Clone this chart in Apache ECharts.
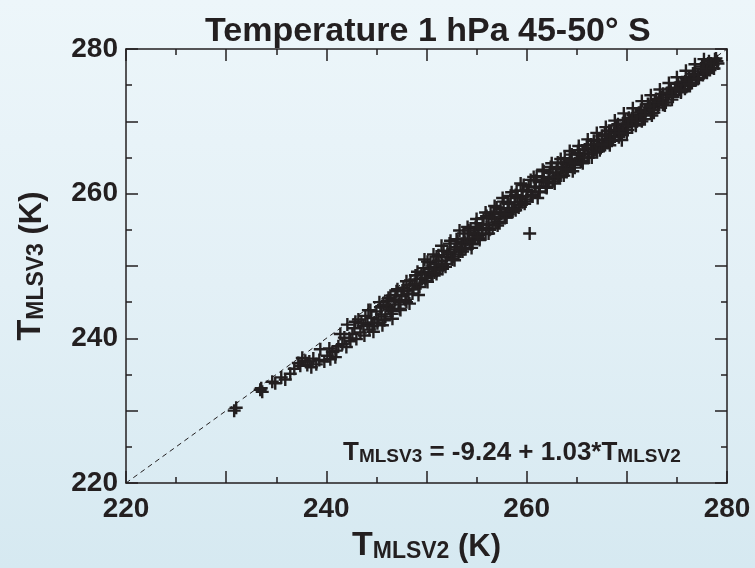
<!DOCTYPE html>
<html>
<head>
<meta charset="utf-8">
<script src="https://cdn.jsdelivr.net/npm/echarts@6/dist/echarts.min.js"></script>
<style>
html,body{margin:0;padding:0;}
#chart{width:755px;height:568px;background:linear-gradient(to bottom,#edf6fa 0%,#e3f0f6 50%,#d6e9f1 100%);}
</style>
</head>
<body>
<div id="chart"></div>
<script>
// ---- data ----
const titleText = 'Temperature 1 hPa 45-50\u00b0 S';
const axisMin = 220, axisMax = 280;
const tickLabels = [220, 240, 260, 280];
const diagonal = [[220, 220], [280, 280]];
// T_MLSV2 (x) and T_MLSV3 (y)
const tV2 = [
 230.8,231.0,233.4,233.6,233.5,234.6,234.9,235.5,235.9,236.4,236.8,237.2,237.4,237.9,238.1,238.5,238.7,239.0,239.3,239.4,
 239.8,240.1,240.3,240.6,240.9,241.2,241.6,241.8,242.0,242.1,242.4,242.6,242.8,243.0,243.2,243.4,243.7,243.9,244.1,244.3,
 244.5,244.8,245.0,245.2,245.5,245.7,245.9,246.2,246.4,246.6,246.8,247.0,247.2,247.5,247.7,247.9,248.1,248.4,248.6,248.8,
 249.0,249.3,249.5,249.7,249.9,250.2,250.4,250.6,250.8,251.0,251.3,251.5,251.7,251.9,252.1,252.3,252.6,252.8,253.0,253.2,
 253.5,253.7,253.9,254.1,254.4,254.6,254.8,255.0,255.3,255.5,255.7,255.9,256.2,256.4,256.6,256.8,257.0,257.3,257.5,257.7,
 257.9,258.2,258.4,258.6,258.8,259.0,259.2,259.5,259.7,259.9,260.1,260.3,260.4,260.6,260.8,261.0,261.3,261.5,261.7,261.9,
 262.2,262.4,262.6,262.9,263.1,263.3,263.6,263.8,264.0,264.3,264.5,264.8,265.0,265.2,265.5,265.7,266.0,266.2,266.5,266.7,
 267.0,267.2,267.5,267.7,268.0,268.2,268.5,268.7,269.0,269.3,269.5,269.6,269.8,270.1,270.3,270.6,270.9,271.1,271.4,271.6,
 271.9,272.1,272.4,272.6,272.9,273.1,273.4,273.6,273.9,274.1,274.4,274.6,274.9,275.1,275.4,275.6,275.9,276.1,276.4,276.6,
 276.9,277.1,277.4,277.6,277.9,278.1,278.3,278.6,278.8,279.0,
 244.2,244.6,245.1,245.4,245.8,246.1,246.5,246.9,247.3,247.6,248.0,248.3,248.7,249.1,249.4,249.8,250.1,250.5,250.9,251.2,
 251.6,252.0,252.4,252.7,253.1,253.4,253.8,254.2,254.5,254.9,255.2,255.6,256.0,256.3,256.7,257.1,257.4,257.8,258.1,258.5,
 258.9,259.3,259.6,260.0,260.2,260.5,260.9,261.2,261.6,262.0,262.3,262.7,263.0,263.4,263.7,264.1,264.4,264.7,265.1,265.4,
 265.8,266.1,266.4,266.8,267.1,267.4,267.8,268.1,268.4,268.8,269.1,269.4,269.9,270.2,270.5,270.8,271.2,271.5,271.8,272.2,
 272.5,272.8,273.2,273.5,273.8,274.2,274.5,274.8,275.2,275.5,275.8,276.2,276.5,276.8,277.2,277.5,277.8,278.2,278.5,278.9,
 279.1,237.6,238.3,240.4,241.0,241.4,242.3,242.9,243.5,243.8,
 244.4,244.7,245.3,245.6,246.2,246.6,247.1,247.4,248.0,248.3,248.9,249.2,249.8,250.1,250.7,251.0,251.5,251.9,252.4,252.8,
 253.3,253.6,254.1,254.5,255.0,255.3,255.9,256.2,256.8,257.1,257.6,258.0,258.5,258.9,259.4,259.8,260.7,261.1,261.6,262.0,
 262.5,262.8,263.4,263.7,264.3,264.6,265.2,265.6,266.1,266.5,267.0,267.3,267.9,268.3,268.8,269.2,269.7,270.0,270.6,270.9,
 271.5,271.8,272.4,272.7,273.3,273.6,274.2,274.5,275.0,275.4,275.9,276.3,276.8,277.1,277.7,278.0,
 246.0,246.4,246.9,247.3,247.8,248.2,248.6,249.0,249.5,249.9,250.3,250.8,251.2,251.6,252.1,252.5,252.9,253.4,253.8,254.3,
 254.7,255.1,255.6,256.0,256.5,256.9,257.3,257.8,258.2,258.7,259.1,259.5,260.0,260.4,260.9,261.3,261.7,262.2,262.6,263.1,
 263.5,263.9,264.4,264.8,265.3,265.7,266.1,266.6,267.0,267.5,267.9,268.3,268.8,269.2,269.6,270.1,270.5,271.0,271.4,271.8,
 272.3,272.7,273.2,273.6,274.0,274.5,274.9,275.4,275.8,276.2,276.7,277.1,277.6,278.0,278.4,278.7
];
const tV3 = [
 230.0,230.4,232.9,232.6,233.1,234.0,233.8,234.6,234.3,235.1,235.8,236.6,236.2,236.9,236.3,236.0,237.2,236.4,237.0,238.5,
 236.8,237.6,238.6,238.1,237.4,238.9,239.2,240.1,238.8,241.9,239.6,240.6,241.4,239.9,242.6,240.8,241.7,243.1,242.0,241.2,
 242.8,242.2,243.7,242.6,243.3,244.6,243.0,244.3,245.9,243.8,245.1,246.5,244.7,245.8,247.0,245.3,246.6,248.0,246.2,247.5,
 248.7,247.1,248.2,249.7,247.9,249.2,250.5,248.7,249.9,251.3,249.4,250.7,252.1,250.3,251.6,253.1,250.9,252.3,253.7,251.6,
 253.0,254.5,252.3,253.6,255.2,253.1,254.3,255.9,253.6,255.0,256.6,254.4,255.7,257.4,255.2,256.5,258.1,255.9,257.2,258.9,
 256.7,258.0,259.7,257.5,258.8,260.4,258.1,259.6,261.2,258.9,260.3,254.5,261.9,259.6,260.9,262.4,260.3,261.6,263.1,260.9,
 262.2,263.7,261.7,262.9,264.3,262.3,263.5,264.9,263.0,264.1,265.4,263.6,264.8,266.0,264.4,265.5,266.7,265.0,266.2,267.3,
 265.8,266.9,268.0,266.6,267.6,268.7,267.3,268.4,269.4,268.1,267.4,269.1,270.2,268.8,269.9,270.9,269.6,270.6,271.6,270.3,
 271.4,272.4,271.1,272.1,273.1,271.9,272.9,273.8,272.6,273.6,274.5,273.4,274.3,275.2,274.1,275.1,275.9,274.9,275.8,276.6,
 275.7,276.5,277.3,276.4,277.2,278.0,277.1,277.8,278.6,278.3,
 243.9,241.7,242.1,244.3,242.5,245.2,243.4,246.0,244.1,246.6,245.0,247.4,246.8,249.2,247.6,248.9,250.6,248.6,250.3,251.5,
 249.6,251.2,251.9,251.3,253.4,252.0,253.3,254.9,253.0,255.4,254.3,255.1,256.9,255.0,257.2,256.1,257.9,256.9,258.8,257.6,
 259.8,258.4,260.4,259.2,261.0,259.8,261.8,260.2,262.3,261.0,262.9,262.0,263.4,262.5,264.2,263.2,264.7,264.0,265.6,264.6,
 266.1,265.4,266.8,266.1,267.4,266.3,268.2,267.0,268.7,267.9,269.6,268.5,269.4,270.5,269.3,270.2,271.2,270.0,270.9,271.9,
 270.8,272.6,272.3,273.3,272.2,274.0,273.6,274.6,274.4,275.4,274.5,276.1,275.3,276.9,276.0,277.6,276.8,278.3,277.4,278.7,
 278.0,237.3,236.8,237.1,238.3,240.6,240.0,242.3,242.1,240.4,
 243.9,240.9,245.0,241.8,245.6,242.7,246.8,243.9,247.9,244.8,248.7,246.0,250.9,247.8,251.6,248.9,252.8,249.9,253.5,250.8,
 254.9,252.0,255.4,252.5,256.5,253.8,257.4,254.5,258.3,255.6,259.4,256.7,260.2,257.7,261.4,258.6,262.3,259.4,263.3,260.8,
 264.2,261.4,264.8,262.5,265.9,263.1,266.6,264.2,267.5,265.0,268.4,266.0,269.2,266.7,270.1,267.8,271.1,268.4,271.8,269.4,
 272.8,270.3,273.6,271.2,274.4,272.3,275.3,273.0,276.1,274.0,277.0,274.9,277.9,275.9,278.6,276.7,
 244.6,244.0,245.3,245.0,246.6,246.1,247.4,247.5,248.9,248.3,249.6,249.1,250.7,250.1,251.9,251.0,252.6,252.5,253.8,253.3,
 254.6,254.0,255.7,255.3,256.8,256.0,257.5,257.2,258.6,257.9,259.4,258.8,260.5,259.7,260.9,260.8,261.9,261.6,262.8,262.3,
 263.7,263.4,264.5,264.2,265.4,265.0,266.3,265.7,266.9,266.7,268.0,267.5,268.8,268.4,269.7,269.4,270.4,270.0,271.3,270.9,
 272.1,271.6,273.0,272.6,273.9,273.5,274.6,274.3,275.5,275.2,276.4,275.9,277.2,277.0,278.0,277.3
];

const points = tV2.map((x, i) => [x, tV3[i]]);
const ink = '#231f20';
const font = 'Liberation Sans, Arial, Helvetica, sans-serif';
const plusPath = 'path://M5.3,0H7.7V5.3H13V7.7H7.7V13H5.3V7.7H0V5.3H5.3Z';

const chart = echarts.init(document.getElementById('chart'), null, {renderer: 'canvas'});

const labelFmt = v => (tickLabels.indexOf(v) >= 0 ? String(v) : '');
function baseAxis(pos, showLabel, margin) {
  return {
    type: 'value', min: axisMin, max: axisMax, interval: 10, position: pos,
    axisLine: {show: true, onZero: false, lineStyle: {color: ink, width: 1.5}},
    axisTick: {show: true, inside: true, length: 12, lineStyle: {color: ink, width: 1.5}},
    minorTick: {show: true, splitNumber: 2, length: 6, lineStyle: {color: ink, width: 1.5}},
    splitLine: {show: false},
    axisLabel: {show: showLabel, formatter: labelFmt, showMinLabel: true, showMaxLabel: true,
      color: ink, fontSize: 28, fontWeight: 'bold', fontFamily: font, margin: margin || 8}
  };
}
const nameRich = {
  T: {fontSize: 34, fontWeight: 'bold', fontFamily: font, color: ink, verticalAlign: 'bottom', lineHeight: 36},
  s: {fontSize: 23, fontWeight: 'bold', fontFamily: font, color: ink, verticalAlign: 'bottom', lineHeight: 30},
  k: {fontSize: 31, fontWeight: 'bold', fontFamily: font, color: ink, verticalAlign: 'bottom', lineHeight: 36}
};

const xBottom = Object.assign(baseAxis('bottom', true, 12), {
  name: '{T|T}{s|MLSV2}{k| (K)}', nameLocation: 'middle', nameGap: 44,
  nameTextStyle: {rich: nameRich}
});
const yLeft = Object.assign(baseAxis('left', true, 8), {
  name: '{T|T}{s|MLSV3}{k| (K)}', nameLocation: 'middle', nameGap: 78,
  nameTextStyle: {rich: nameRich}
});

chart.setOption({
  animation: false,
  backgroundColor: 'transparent',
  title: {
    text: titleText, left: 200, top: 10,
    textStyle: {fontSize: 34, fontWeight: 'bold', fontFamily: font, color: ink}
  },
  grid: {left: 126, right: 28, top: 49, bottom: 75, containLabel: false},
  xAxis: [xBottom, baseAxis('top', false)],
  yAxis: [yLeft, baseAxis('right', false)],
  graphic: [{
    type: 'text', left: 343, top: 440,
    style: {
      text: '{T|T}{s|MLSV3}{n| = -9.24 + 1.03*}{T|T}{s|MLSV2}',
      rich: {
        T: {fontSize: 26, fontWeight: 'bold', fontFamily: font, fill: ink, verticalAlign: 'bottom', lineHeight: 27},
        s: {fontSize: 19, fontWeight: 'bold', fontFamily: font, fill: ink, verticalAlign: 'bottom', lineHeight: 25},
        n: {fontSize: 26, fontWeight: 'bold', fontFamily: font, fill: ink, verticalAlign: 'bottom', lineHeight: 27}
      }
    }
  }],
  series: [
    {
      type: 'line', data: diagonal, xAxisIndex: 0, yAxisIndex: 0,
      symbol: 'none', silent: true, z: 1,
      lineStyle: {color: ink, width: 1, type: [5, 4]}
    },
    {
      type: 'scatter', data: points, xAxisIndex: 0, yAxisIndex: 0,
      symbol: plusPath, symbolSize: 13, z: 2,
      itemStyle: {color: ink, opacity: 1}
    }
  ]
});
</script>
</body>
</html>
